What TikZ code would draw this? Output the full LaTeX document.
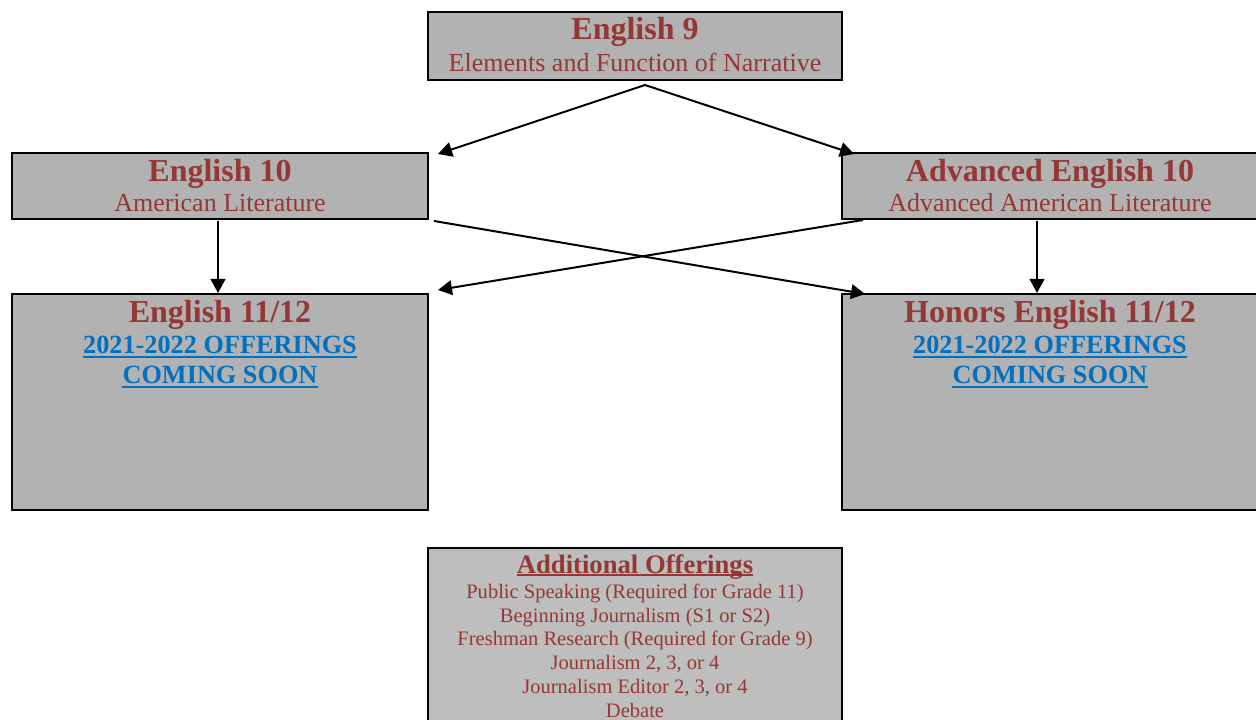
\documentclass[tikz,border=0pt]{standalone}
\usepackage{fontspec}
\setmainfont{Liberation Serif}
\usetikzlibrary{arrows.meta,calc}
\definecolor{boxgray}{RGB}{178,178,178}
\definecolor{boxlight}{RGB}{190,190,190}
\definecolor{titlered}{RGB}{149,55,53}
\definecolor{linkblue}{RGB}{0,112,192}
\begin{document}
\begin{tikzpicture}[x=0.75pt,y=-0.75pt,
  course/.style={draw=black,line width=1.5pt,fill=boxgray,inner sep=0pt},
  ttl/.style={anchor=base,inner sep=0pt,text=titlered,font=\fontsize{24}{28}\selectfont\bfseries},
  sub/.style={anchor=base,inner sep=0pt,text=titlered,font=\fontsize{19.5}{23}\selectfont},
  lnk/.style={anchor=base,inner sep=0pt,text=linkblue,font=\fontsize{19.7}{24}\selectfont\bfseries},
  item/.style={anchor=base,inner sep=0pt,text=titlered,font=\fontsize{15.4}{18}\selectfont},
  flow/.style={line width=1.5pt,-{Triangle[length=10.5pt,width=11pt]}},
  uline/.style={line width=1.5pt}
]
\clip (0,0) rectangle (1256,720);
\fill[white] (0,0) rectangle (1256,720);

% course boxes
\node[course,minimum width=310.5pt,minimum height=51pt] (e9) at (635,46) {};
\node[course,minimum width=312pt,minimum height=49.5pt] (e10) at (220,186) {};
\node[course,minimum width=312pt,minimum height=49.5pt] (a10) at (1050,186) {};
\node[course,minimum width=312pt,minimum height=162pt] (e11) at (220,402) {};
\node[course,minimum width=312pt,minimum height=162pt] (h11) at (1050,402) {};
\node[course,fill=boxlight,minimum width=310.5pt,minimum height=144pt] (add) at (635,644) {};

% English 9
\node[ttl] (e9t) at (635,40) {English 9};
\node[sub] (e9s) at (635,72) {Elements and Function of Narrative};

% grade 10
\node[ttl] (e10t) at (220,182) {English 10};
\node[sub] (e10s) at (220,212) {American Literature};
\node[ttl] (a10t) at (1050,182) {Advanced English 10};
\node[sub] (a10s) at (1050,212) {Advanced American Literature};

% grades 11/12
\node[ttl] (e11t) at (220,322) {English 11/12};
\node[lnk] (e11a) at (220,353) {2021-2022 OFFERINGS};
\node[lnk] (e11b) at (220,383) {COMING SOON};
\node[ttl] (h11t) at (1050,322) {Honors English 11/12};
\node[lnk] (h11a) at (1050,353) {2021-2022 OFFERINGS};
\node[lnk] (h11b) at (1050,383) {COMING SOON};
\foreach \n in {e11a,e11b,h11a,h11b}
  \draw[uline,linkblue] ([yshift=-3pt]\n.base west) -- ([yshift=-3pt]\n.base east);

% additional offerings
\node[ttl,font=\fontsize{20}{24}\selectfont\bfseries] (addt) at (635,573) {Additional Offerings};
\draw[line width=1.2pt,titlered] ([yshift=-1.5pt]addt.base west) -- ([yshift=-1.5pt]addt.base east);
\node[item] (add1) at (635,598) {Public Speaking (Required for Grade 11)};
\node[item] (add2) at (635,622) {Beginning Journalism (S1 or S2)};
\node[item] (add3) at (635,645) {Freshman Research (Required for Grade 9)};
\node[item] (add4) at (635,669) {Journalism 2, 3, or 4};
\node[item] (add5) at (635,693) {Journalism Editor 2, 3, or 4};
\node[item] (add6) at (635,717) {Debate};

% pathways
\coordinate (split) at ($(e9.south)+(10,4)$);
\draw[flow] (split) -- ($(e10.north east)+(9,2)$);
\draw[flow] (split) -- ($(a10.north west)+(13,2)$);
\draw[flow] ($(e10.south)+(-2,1)$) -- ($(e11.north)+(-2,0)$);
\draw[flow] ($(a10.south)+(-13,1)$) -- ($(h11.north)+(-13,0)$);
\draw[flow] ($(e10.south east)+(5,1)$) -- ($(h11.north west)+(24,1)$);
\draw[flow] ($(a10.south west)+(22,0)$) -- ($(e11.north east)+(9,-3)$);
\end{tikzpicture}
\end{document}
